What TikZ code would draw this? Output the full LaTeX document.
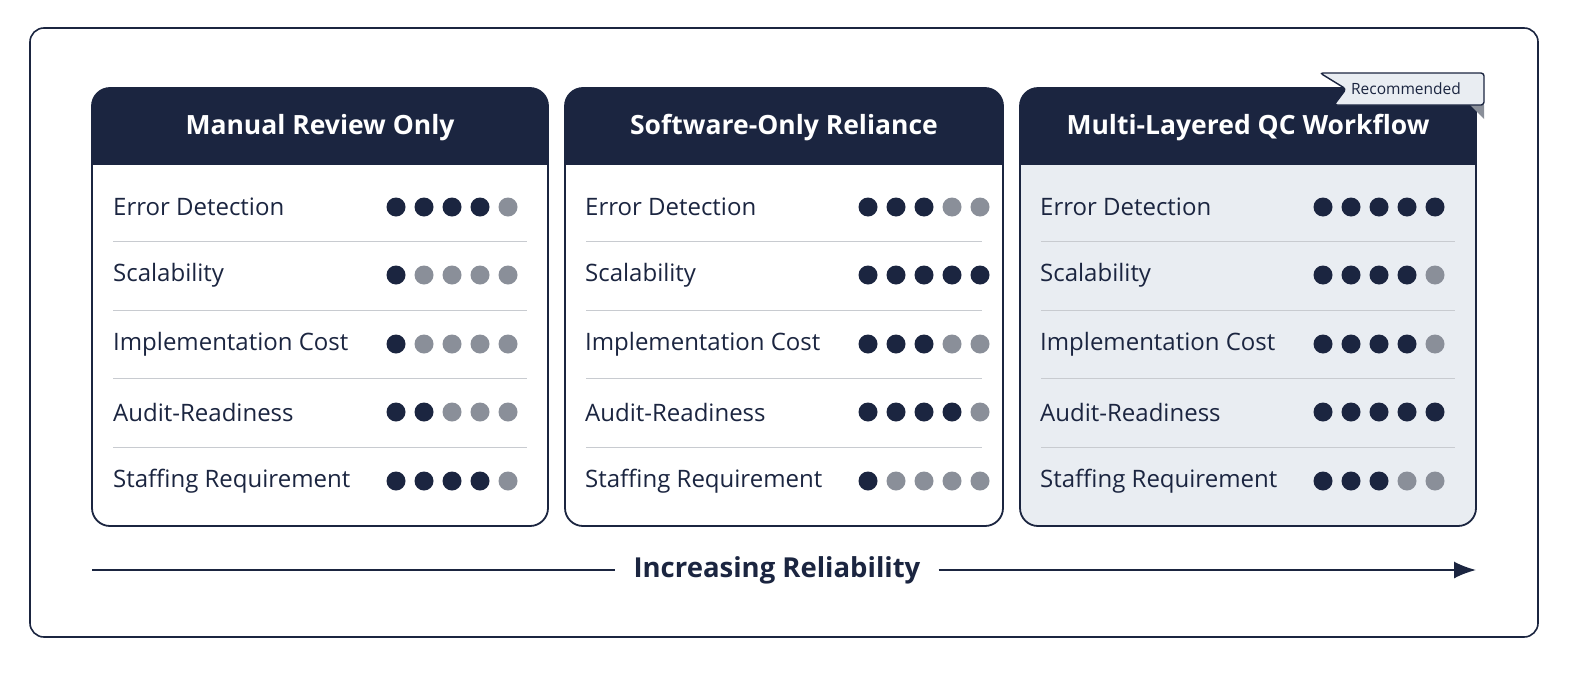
\documentclass[tikz,border=0pt]{standalone}
\usepackage{fontspec}
\setmainfont{Open Sans}
\usetikzlibrary{arrows.meta}
\definecolor{navy}{HTML}{1B2540}
\definecolor{dgray}{HTML}{8A8F99}
\definecolor{lbg}{HTML}{E9EDF2}
\definecolor{sep}{HTML}{C8CBD0}
\begin{document}
\begin{tikzpicture}[x=1pt,y=-1pt,
  lab/.style={anchor=west,font=\fontsize{24}{27}\selectfont,text=navy,inner sep=0},
  head/.style={font=\bfseries\fontsize{26.5}{29}\selectfont,text=white,inner sep=0},
  on/.style={fill=navy},off/.style={fill=dgray}]
\useasboundingbox (0,0) rectangle (1584,672);
\draw[navy,line width=1.6pt,rounded corners=14pt] (30,28) rectangle (1538,637);
\newcommand{\card}[5]{% x1 x2 title fill name
  \fill[#4,rounded corners=18pt] (#1,88) rectangle (#2,526);
  \fill[navy,rounded corners=18pt] (#1,88) rectangle (#2,140);
  \fill[navy] (#1,120) rectangle (#2,165);
  \draw[navy,line width=1.8pt,rounded corners=18pt] (#1,88) rectangle (#2,526);
  \node[head] (#5h) at ({(#1+#2)/2},128) {#3};
  \foreach \yy in {241,310,378,447} \draw[sep,line width=1pt] ({#1+21},\yy) -- ({#2-21},\yy);
}
\newcommand{\row}[5]{% x0 y label count name
  \node[lab] (#5) at (#1,#2) {#3};
  \foreach \k in {1,...,5}{
    \pgfmathsetmacro\cx{#1+283+(\k-1)*28}
    \ifnum\k>#4 \fill[dgray] (\cx,#2) circle (9.5);\else \fill[navy] (\cx,#2) circle (9.5);\fi}
}
\card{92}{548}{Manual Review Only}{white}{a}
\card{565}{1003}{Software-Only Reliance}{white}{b}
\card{1020}{1476}{Multi-Layered QC Workflow}{lbg}{c}
% ribbon
\fill[dgray] (1470,105) -- (1484,105) -- (1484,119) -- cycle;
\filldraw[fill=lbg,draw=navy,line width=1.4pt,rounded corners=3pt] (1320,73) -- (1484,73) -- (1484,105) -- (1334,105) -- (1346,89) -- cycle;
\node[font=\fontsize{15.5}{18}\selectfont,text=navy] (rec) at (1406,89) {Recommended};
\row{113}{207}{Error Detection}{4}{a1}
\row{113}{275}{Scalability}{1}{a2}
\row{113}{344}{Implementation Cost}{1}{a3}
\row{113}{412}{Audit-Readiness}{2}{a4}
\row{113}{481}{Staffing Requirement}{4}{a5}
\row{585}{207}{Error Detection}{3}{b1}
\row{585}{275}{Scalability}{5}{b2}
\row{585}{344}{Implementation Cost}{3}{b3}
\row{585}{412}{Audit-Readiness}{4}{b4}
\row{585}{481}{Staffing Requirement}{1}{b5}
\row{1040}{207}{Error Detection}{5}{c1}
\row{1040}{275}{Scalability}{4}{c2}
\row{1040}{344}{Implementation Cost}{4}{c3}
\row{1040}{412}{Audit-Readiness}{5}{c4}
\row{1040}{481}{Staffing Requirement}{3}{c5}
\coordinate (s) at (92,570);
\coordinate (e) at (1476,570);
\node[font=\bfseries\fontsize{27.5}{30}\selectfont,text=navy,inner xsep=18pt] (t) at (777,570) {Increasing Reliability};
\draw[navy,line width=1.8pt] (s) -- (t.west);
\draw[navy,line width=1.8pt,-{Latex[length=22pt,width=17pt]}] (t.east) -- (e);
\end{tikzpicture}
\end{document}
